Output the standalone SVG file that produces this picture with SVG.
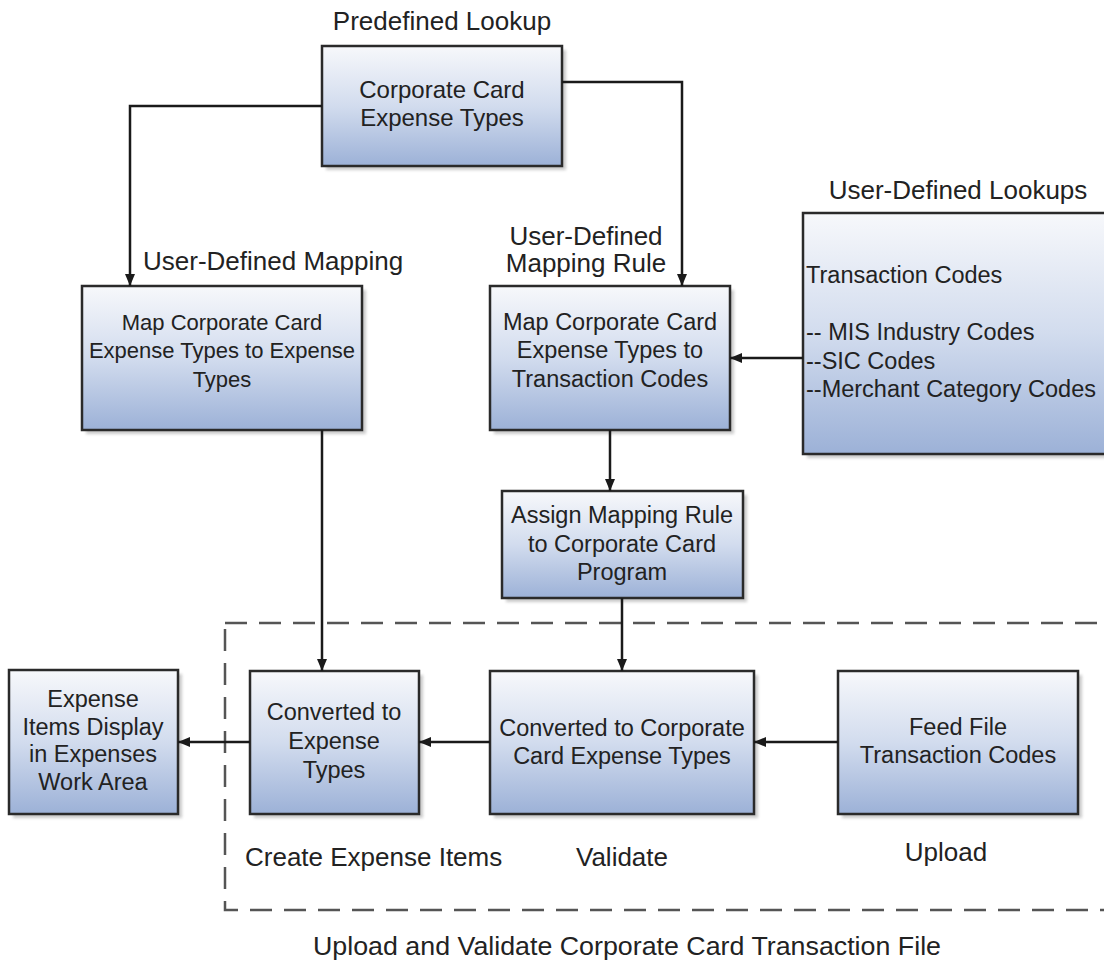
<svg xmlns="http://www.w3.org/2000/svg" width="1104" height="962" viewBox="0 0 1104 962">
<defs>
  <linearGradient id="g" x1="0" y1="0" x2="0" y2="1">
    <stop offset="0" stop-color="#f7f8fb"/>
    <stop offset="0.5" stop-color="#d2dcee"/>
    <stop offset="1" stop-color="#9cb1d7"/>
  </linearGradient>
  <filter id="blur" x="-10%" y="-10%" width="120%" height="120%">
    <feGaussianBlur stdDeviation="1.5"/>
  </filter>
  <marker id="ah" viewBox="0 0 12 10" refX="12" refY="5" markerWidth="12" markerHeight="10" markerUnits="userSpaceOnUse" orient="auto">
    <path d="M0,0 L12,5 L0,10 Z" fill="#1a1a1a"/>
  </marker>
</defs>
<style>
  .box { fill: url(#g); stroke: #2a2a2a; stroke-width: 2.5; }
  .sh { fill: #bdbdbd; opacity: 0.8; filter: url(#blur); }
  .t { font-family: "Liberation Sans", Arial, sans-serif; font-size: 23.5px; fill: #222; text-anchor: middle; }
  .tl { font-family: "Liberation Sans", Arial, sans-serif; font-size: 23.5px; fill: #222; }
  .lab { font-family: "Liberation Sans", Arial, sans-serif; font-size: 26px; fill: #222; text-anchor: middle; }
  .c { fill: none; stroke: #1a1a1a; stroke-width: 2.5; marker-end: url(#ah); }
  .dash { fill: none; stroke: #555; stroke-width: 2.5; stroke-dasharray: 22 12; }
</style>
<rect width="1104" height="962" fill="#ffffff"/>

<rect class="dash" x="225" y="623" width="900" height="287"/>

<g id="labels">
  <text class="lab" x="442" y="30">Predefined Lookup</text>
  <text class="lab" x="958" y="199">User-Defined Lookups</text>
  <text class="lab" x="143" y="270" style="text-anchor:start">User-Defined Mapping</text>
  <text class="lab" x="586" y="245">User-Defined</text>
  <text class="lab" x="586" y="272">Mapping Rule</text>
  <text class="lab" x="245" y="866" style="text-anchor:start">Create Expense Items</text>
  <text class="lab" x="622" y="866">Validate</text>
  <text class="lab" x="946" y="861">Upload</text>
  <text class="lab" x="313" y="955" style="text-anchor:start" textLength="628" lengthAdjust="spacingAndGlyphs">Upload and Validate Corporate Card Transaction File</text>
</g>

<g id="n-cc-types">
  <rect class="sh" x="326" y="50" width="240" height="120"/>
  <rect class="box" x="322" y="46" width="240" height="120"/>
  <text class="t" x="442" y="98" style="font-size:24px">Corporate Card</text>
  <text class="t" x="442" y="126" style="font-size:24px">Expense Types</text>
</g>

<g id="n-map-et">
  <rect class="sh" x="86" y="290" width="280" height="144"/>
  <rect class="box" x="82" y="286" width="280" height="144"/>
  <text class="t" x="222" y="330" style="font-size:22px">Map Corporate Card</text>
  <text class="t" x="222" y="358" style="font-size:22px">Expense Types to Expense</text>
  <text class="t" x="222" y="387" style="font-size:22px">Types</text>
</g>

<g id="n-map-tc">
  <rect class="sh" x="494" y="290" width="240" height="144"/>
  <rect class="box" x="490" y="286" width="240" height="144"/>
  <text class="t" x="610" y="330">Map Corporate Card</text>
  <text class="t" x="610" y="358">Expense Types to</text>
  <text class="t" x="610" y="387">Transaction Codes</text>
</g>

<g id="n-tc-lookups">
  <rect class="sh" x="807" y="217" width="320" height="241"/>
  <rect class="box" x="803" y="213" width="320" height="241"/>
  <text class="tl" x="806" y="283">Transaction Codes</text>
  <text class="tl" x="806" y="340">-- MIS Industry Codes</text>
  <text class="tl" x="806" y="369">--SIC Codes</text>
  <text class="tl" x="806" y="397">--Merchant Category Codes</text>
</g>

<g id="n-assign">
  <rect class="sh" x="506" y="495" width="241" height="107"/>
  <rect class="box" x="502" y="491" width="241" height="107"/>
  <text class="t" x="622" y="523">Assign Mapping Rule</text>
  <text class="t" x="622" y="552">to Corporate Card</text>
  <text class="t" x="622" y="580">Program</text>
</g>

<g id="n-display">
  <rect class="sh" x="13" y="674" width="169" height="144"/>
  <rect class="box" x="9" y="670" width="169" height="144"/>
  <text class="t" x="93" y="707">Expense</text>
  <text class="t" x="93" y="735">Items Display</text>
  <text class="t" x="93" y="762">in Expenses</text>
  <text class="t" x="93" y="790">Work Area</text>
</g>

<g id="n-conv-et">
  <rect class="sh" x="254" y="675" width="169" height="143"/>
  <rect class="box" x="250" y="671" width="169" height="143"/>
  <text class="t" x="334" y="720">Converted to</text>
  <text class="t" x="334" y="749">Expense</text>
  <text class="t" x="334" y="778">Types</text>
</g>

<g id="n-conv-cc">
  <rect class="sh" x="494" y="675" width="264" height="143"/>
  <rect class="box" x="490" y="671" width="264" height="143"/>
  <text class="t" x="622" y="736">Converted to Corporate</text>
  <text class="t" x="622" y="764">Card Expense Types</text>
</g>

<g id="n-feed">
  <rect class="sh" x="842" y="675" width="240" height="143"/>
  <rect class="box" x="838" y="671" width="240" height="143"/>
  <text class="t" x="958" y="735">Feed File</text>
  <text class="t" x="958" y="763">Transaction Codes</text>
</g>

<g id="connectors">
  <path class="c" d="M322,106 H130 V286"/>
  <path class="c" d="M562,82 H682 V286"/>
  <path class="c" d="M803,358 H730"/>
  <path class="c" d="M610,430 V491"/>
  <path class="c" d="M622,598 V671"/>
  <path class="c" d="M322,430 V671"/>
  <path class="c" d="M838,742 H754"/>
  <path class="c" d="M490,742 H419"/>
  <path class="c" d="M250,742 H178"/>
</g>
</svg>
